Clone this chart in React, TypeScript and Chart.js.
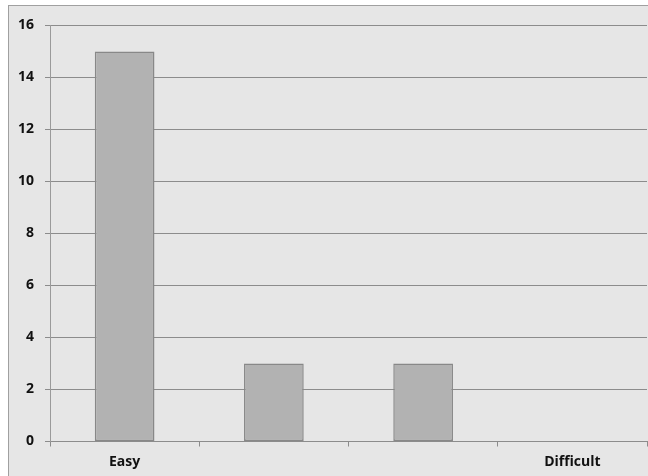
import React, { useEffect, useRef } from "react";
import { Chart, registerables } from "chart.js";

Chart.register(...registerables);

const categories = ["Easy", "", "", "Difficult"];
const counts = [15, 3, 3, 0];
const yMin = 0;
const yMax = 16;
const yStep = 2;

export default function App() {
  const ref = useRef<HTMLCanvasElement | null>(null);

  useEffect(() => {
    document.body.style.margin = "0";
    document.body.style.overflow = "hidden";
    const font = { family: "'Open Sans', sans-serif", size: 14, weight: "bold" as const };
    const chart = new Chart(ref.current!, {
      type: "bar",
      data: {
        labels: categories,
        datasets: [
          {
            data: counts,
            backgroundColor: "#b2b2b2",
            borderColor: "#888888",
            borderWidth: 1.5,
            borderSkipped: false,
            barPercentage: 0.4,
            categoryPercentage: 1,
          },
        ],
      },
      options: {
        animation: false,
        responsive: false,
        maintainAspectRatio: false,
        layout: { padding: { top: 16, right: 1, left: 0, bottom: 0 } },
        plugins: { legend: { display: false }, tooltip: { enabled: false } },
        scales: {
          x: {
            offset: true,
            grid: {
              offset: true,
              drawOnChartArea: false,
              drawTicks: true,
              tickLength: 5,
              color: "#8c8c8c",
            },
            border: { display: true, color: "#8c8c8c", width: 1 },
            ticks: { color: "#111", font, padding: 7, autoSkip: false, maxRotation: 0 },
            afterFit: (axis: any) => {
              axis.height = 34.5;
            },
          },
          y: {
            min: yMin,
            max: yMax,
            grid: { color: "#8c8c8c", lineWidth: 1, tickLength: 5, drawTicks: true },
            border: { display: true, color: "#9a9a9a", width: 1 },
            ticks: { stepSize: yStep, color: "#111", font, padding: 11 },
            afterFit: (axis: any) => {
              axis.width = 41;
            },
          },
        },
      },
    });
    return () => chart.destroy();
  }, []);

  return (
    <div
      style={{
        position: "absolute",
        left: 8,
        top: 5,
        width: 640,
        height: 471,
        background: "#e6e6e6",
        borderLeft: "1px solid #a0a0a0",
        borderTop: "1px solid #a0a0a0",
        boxSizing: "border-box",
        overflow: "hidden",
      }}
    >
      <canvas ref={ref} width={639} height={470} style={{ display: "block", width: 639, height: 470 }} />
    </div>
  );
}
